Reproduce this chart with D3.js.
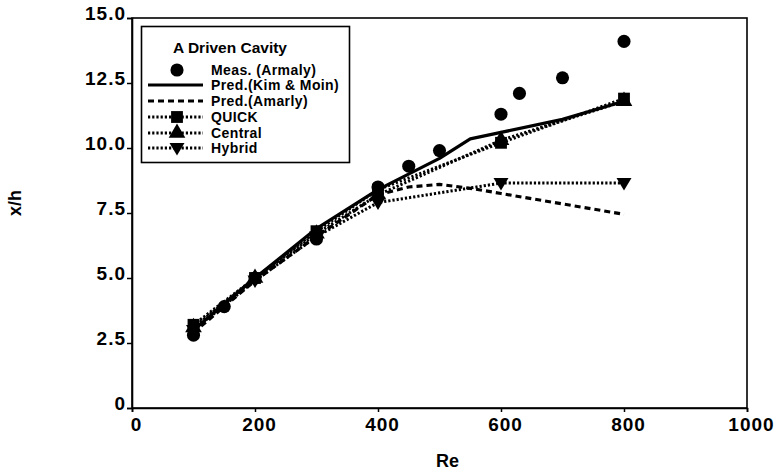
<!DOCTYPE html>
<html>
<head>
<meta charset="utf-8">
<script src="https://cdn.jsdelivr.net/npm/d3@7"></script>
<style>
    body { margin: 0; background: #fff; }
    svg { display: block; font-family: "Liberation Sans", Arial, Helvetica, sans-serif; font-weight: bold; }
</style>
</head>
<body>
<svg id="chart" width="777" height="474"></svg>
<script>
const measRe = [100, 150, 200, 300, 400, 450, 500, 600, 630, 700, 800];
const measXh = [2.8, 3.9, 5.0, 6.5, 8.5, 9.3, 9.9, 11.3, 12.1, 12.7, 14.1];

const kimRe = [100, 200, 300, 400, 500, 550, 600, 700, 800];
const kimXh = [3.0, 5.0, 6.9, 8.4, 9.6, 10.35, 10.6, 11.1, 11.8];

const amarlyRe = [100, 200, 300, 400, 450, 500, 550, 600, 700, 800];
const amarlyXh = [2.9, 4.9, 6.6, 8.2, 8.5, 8.6, 8.45, 8.25, 7.85, 7.45];

const simRe = [100, 200, 300, 400, 600, 800];
const quickXh = [3.2, 5.0, 6.8, 8.4, 10.2, 11.9];
const centralXh = [3.1, 5.0, 6.7, 8.2, 10.3, 11.8];
const hybridXh = [3.0, 4.9, 6.6, 7.9, 8.65, 8.65];

const xTicks = [0, 200, 400, 600, 800, 1000];
const yTicks = [0, 2.5, 5, 7.5, 10, 12.5, 15];

const legendTitle = "A Driven Cavity";
const legendLabels = ["Meas. (Armaly)", "Pred.(Kim & Moin)", "Pred.(Amarly)", "QUICK", "Central", "Hybrid"];

const svg = d3.select("#chart");
const margin = { left: 132, right: 30, top: 18, bottom: 66 };
const width = 777, height = 474;

const x = d3.scaleLinear().domain([0, 1000]).range([margin.left, width - margin.right]);
const y = d3.scaleLinear().domain([0, 15]).range([height - margin.bottom, margin.top]);

const zip = (xs, ys) => xs.map((v, i) => ({ re: v, xh: ys[i] }));

// series styles: dash pattern + marker
const series = [
    { label: legendLabels[0], data: zip(measRe, measXh), line: null, marker: "circle" },
    { label: legendLabels[1], data: zip(kimRe, kimXh), line: { w: 3.2, dash: null }, marker: null },
    { label: legendLabels[2], data: zip(amarlyRe, amarlyXh), line: { w: 3.2, dash: "6,4" }, marker: null },
    { label: legendLabels[3], data: zip(simRe, quickXh), line: { w: 3, dash: "2.2,2" }, marker: "square" },
    { label: legendLabels[4], data: zip(simRe, centralXh), line: { w: 3, dash: "2.2,2" }, marker: "triangle" },
    { label: legendLabels[5], data: zip(simRe, hybridXh), line: { w: 3, dash: "2.2,2" }, marker: "down" },
];

const symbolPath = (kind) => {
    if (kind === "circle") return d3.symbol(d3.symbolCircle, 135)();
    if (kind === "square") return d3.symbol(d3.symbolSquare, 140)();
    if (kind === "triangle") return d3.symbol(d3.symbolTriangle, 120)();
    if (kind === "down") return "M-7.5,-5L7.5,-5L0,7.5Z";
    return "";
};

// frame
svg.append("rect")
    .attr("x", x(0))
    .attr("y", y(15))
    .attr("width", x(1000) - x(0))
    .attr("height", y(0) - y(15))
    .attr("fill", "none")
    .attr("stroke", "#000")
    .attr("stroke-width", 1.6);

// axes
const xAxis = d3.axisBottom(x).tickValues(xTicks).tickSize(4).tickFormat(d3.format("d"));
const yAxis = d3.axisLeft(y).tickValues(yTicks).tickSize(5)
    .tickFormat((d) => (d === 0 ? "0" : d3.format(".1f")(d)));

svg.append("g")
    .attr("transform", `translate(0, ${y(0)})`)
    .call(xAxis)
    .call((g) => g.select(".domain").attr("stroke-width", 1.6))
    .call((g) => g.selectAll(".tick line").attr("stroke-width", 1.5))
    .call((g) =>
        g.selectAll("text")
            .attr("font-size", 19)
            .attr("font-weight", "bold")
            .attr("font-family", "Liberation Sans, Arial, sans-serif")
            .attr("letter-spacing", 1)
            .attr("fill", "#000")
            .attr("dx", 4)
            .attr("dy", "0.85em")
    );

svg.append("g")
    .attr("transform", `translate(${x(0)}, 0)`)
    .call(yAxis)
    .call((g) => g.select(".domain").attr("stroke-width", 1.6))
    .call((g) => g.selectAll(".tick line").attr("stroke-width", 1.5))
    .call((g) =>
        g.selectAll("text")
            .attr("font-size", 19)
            .attr("font-weight", "bold")
            .attr("font-family", "Liberation Sans, Arial, sans-serif")
            .attr("letter-spacing", 1)
            .attr("fill", "#000")
            .attr("x", -6)
            .attr("dy", "0.1em")
    );

// axis titles
svg.append("text")
    .attr("x", (x(0) + x(1000)) / 2 + 8)
    .attr("y", 467)
    .attr("text-anchor", "middle")
    .attr("font-size", 18)
    .text("Re");

svg.append("text")
    .attr("transform", "translate(21, 203) rotate(-90)")
    .attr("text-anchor", "middle")
    .attr("font-size", 18)
    .text("x/h");

// lines
const line = d3.line((d) => x(d.re), (d) => y(d.xh));

svg.append("g")
    .selectAll("path")
    .data(series.filter((s) => s.line))
    .join("path")
    .attr("d", (s) => line(s.data))
    .attr("fill", "none")
    .attr("stroke", "#000")
    .attr("stroke-width", (s) => s.line.w)
    .attr("stroke-dasharray", (s) => s.line.dash)
    .attr("stroke-linejoin", "round");

// markers
series.filter((s) => s.marker).forEach((s) => {
    svg.append("g")
        .selectAll("path")
        .data(s.data)
        .join("path")
        .attr("transform", (d) => `translate(${x(d.re)}, ${y(d.xh)})`)
        .attr("d", symbolPath(s.marker))
        .attr("fill", "#000");
});

// legend
const legend = svg.append("g");
legend.append("rect")
    .attr("x", 141.5)
    .attr("y", 26.5)
    .attr("width", 208)
    .attr("height", 136)
    .attr("fill", "#fff")
    .attr("stroke", "#000")
    .attr("stroke-width", 1.6);

legend.append("text")
    .attr("x", 230)
    .attr("y", 53)
    .attr("text-anchor", "middle")
    .attr("font-size", 15.5)
    .text(legendTitle);

const rowY = [70, 85, 101, 117, 133, 148];
series.forEach((s, i) => {
    const row = legend.append("g").attr("transform", `translate(0, ${rowY[i]})`);
    if (s.line) {
        row.append("line")
            .attr("x1", 148)
            .attr("x2", 203)
            .attr("stroke", "#000")
            .attr("stroke-width", s.line.w)
            .attr("stroke-dasharray", s.line.dash);
    }
    if (s.marker) {
        row.append("path")
            .attr("transform", "translate(177, 0)")
            .attr("d", symbolPath(s.marker))
            .attr("fill", "#000");
    }
    row.append("text")
        .attr("x", 211)
        .attr("dy", "0.36em")
        .attr("font-size", 14)
        .attr("letter-spacing", 0.4)
        .text(s.label);
});
</script>
</body>
</html>
